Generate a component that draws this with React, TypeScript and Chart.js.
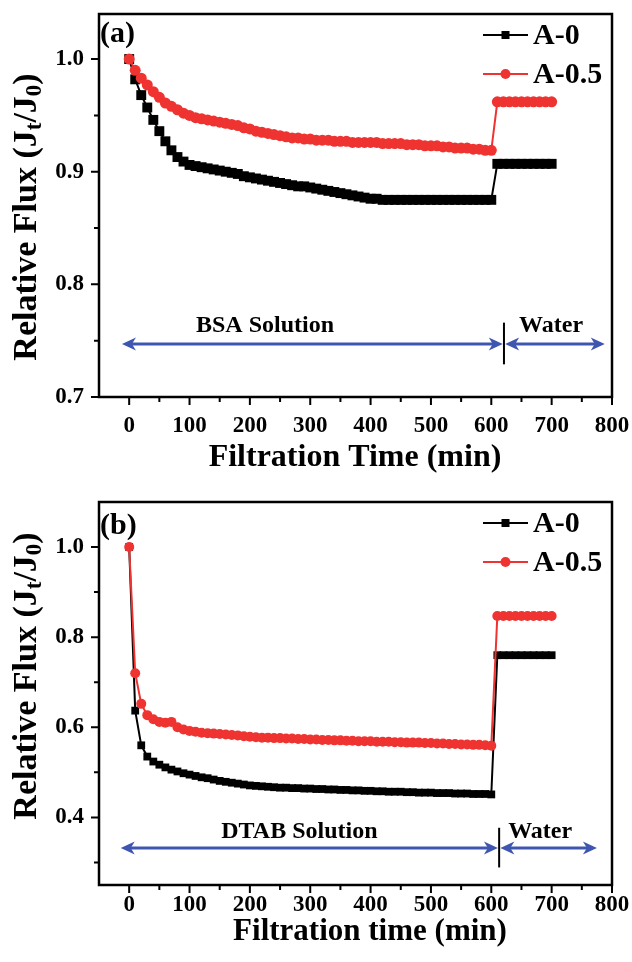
import React, { useEffect, useRef } from "react";
import { Chart, registerables } from "chart.js";

Chart.register(...registerables);

// ---------- data ----------
const TIME_MIN = [
  0, 10, 20, 30, 40, 50, 60, 70, 80, 90,
  100, 110, 120, 130, 140, 150, 160, 170, 180, 190,
  200, 210, 220, 230, 240, 250, 260, 270, 280, 290,
  300, 310, 320, 330, 340, 350, 360, 370, 380, 390,
  400, 410, 420, 430, 440, 450, 460, 470, 480, 490,
  500, 510, 520, 530, 540, 550, 560, 570, 580, 590,
  600, 610, 620, 630, 640, 650, 660, 670, 680, 690, 700,
];

// panel (a): BSA solution then water
const A0_BSA = [
  1.000, 0.982, 0.968, 0.957, 0.946, 0.936, 0.927, 0.919, 0.913, 0.909,
  0.906, 0.905, 0.904, 0.903, 0.902, 0.901, 0.900, 0.899, 0.898, 0.896,
  0.895, 0.894, 0.893, 0.892, 0.891, 0.890, 0.889, 0.888, 0.887, 0.887,
  0.886, 0.885, 0.884, 0.883, 0.882, 0.881, 0.880, 0.879, 0.878, 0.877,
  0.876, 0.876, 0.875, 0.875, 0.875, 0.875, 0.875, 0.875, 0.875, 0.875,
  0.875, 0.875, 0.875, 0.875, 0.875, 0.875, 0.875, 0.875, 0.875, 0.875,
  0.875, 0.907, 0.907, 0.907, 0.907, 0.907, 0.907, 0.907, 0.907, 0.907, 0.907,
];
const A05_BSA = [
  1.000, 0.990, 0.983, 0.977, 0.971, 0.966, 0.961, 0.958, 0.955, 0.952,
  0.950, 0.948, 0.947, 0.946, 0.945, 0.944, 0.943, 0.942, 0.941, 0.939,
  0.938, 0.936, 0.935, 0.934, 0.933, 0.932, 0.931, 0.930, 0.930, 0.929,
  0.929, 0.928, 0.928, 0.928, 0.927, 0.927, 0.927, 0.926, 0.926, 0.926,
  0.926, 0.926, 0.925, 0.925, 0.925, 0.925, 0.924, 0.924, 0.924, 0.923,
  0.923, 0.923, 0.922, 0.922, 0.921, 0.921, 0.921, 0.920, 0.920, 0.919,
  0.919, 0.962, 0.962, 0.962, 0.962, 0.962, 0.962, 0.962, 0.962, 0.962, 0.962,
];

// panel (b): DTAB solution then water
const A0_DTAB = [
  1.000, 0.637, 0.560, 0.535, 0.524, 0.517, 0.511, 0.506, 0.502, 0.498,
  0.495, 0.492, 0.489, 0.487, 0.484, 0.481, 0.479, 0.477, 0.475, 0.473,
  0.471, 0.470, 0.469, 0.468, 0.467, 0.466, 0.466, 0.465, 0.465, 0.464,
  0.464, 0.463, 0.463, 0.462, 0.462, 0.461, 0.461, 0.460, 0.460, 0.459,
  0.459, 0.458, 0.458, 0.457, 0.457, 0.457, 0.456, 0.456, 0.455, 0.455,
  0.455, 0.454, 0.454, 0.454, 0.453, 0.453, 0.453, 0.452, 0.452, 0.452,
  0.451, 0.760, 0.760, 0.760, 0.760, 0.760, 0.760, 0.760, 0.760, 0.760, 0.760,
];
const A05_DTAB = [
  1.000, 0.720, 0.652, 0.627, 0.618, 0.612, 0.610, 0.612, 0.600, 0.595,
  0.592, 0.590, 0.588, 0.587, 0.586, 0.585, 0.584, 0.583, 0.582, 0.580,
  0.579, 0.578, 0.577, 0.577, 0.576, 0.576, 0.575, 0.575, 0.574, 0.574,
  0.573, 0.573, 0.572, 0.572, 0.571, 0.571, 0.570, 0.570, 0.569, 0.569,
  0.569, 0.568, 0.568, 0.568, 0.567, 0.567, 0.566, 0.566, 0.566, 0.565,
  0.565, 0.564, 0.564, 0.563, 0.563, 0.562, 0.562, 0.561, 0.561, 0.560,
  0.559, 0.847, 0.847, 0.847, 0.847, 0.847, 0.847, 0.847, 0.847, 0.847, 0.847,
];

const SERIES_LABELS = ["A-0", "A-0.5"];
const PANEL_TAGS = ["(a)", "(b)"];

const X_TICKS = [0, 100, 200, 300, 400, 500, 600, 700, 800];
const X_MINOR = [50, 150, 250, 350, 450, 550, 650, 750];
const Y_TICKS_A = [0.7, 0.8, 0.9, 1.0];
const Y_MINOR_A = [0.75, 0.85, 0.95];
const Y_TICKS_B = [0.4, 0.6, 0.8, 1.0];
const Y_MINOR_B = [0.3, 0.5, 0.7, 0.9];

const X_TITLE_A = "Filtration Time (min)";
const X_TITLE_B = "Filtration time (min)";
const Y_TITLE_PARTS: [string, boolean][] = [
  ["Relative Flux (J", false],
  ["t", true],
  ["/J", false],
  ["0", true],
  [")", false],
];

const PHASES_A = ["BSA Solution", "Water"];
const PHASES_B = ["DTAB Solution", "Water"];

// ---------- styles ----------
const FONT = '"Liberation Serif", "Times New Roman", serif';
const RED = "#EE3330";
const BLUE = "#3F56B0";

type Spec = {
  tag: string;
  tagOffset: number;
  a0: number[];
  a05: number[];
  a0Radius: number;
  a05Radius: number;
  yMin: number;
  yMax: number;
  yTicks: number[];
  yMinor: number[];
  xTitle: string;
  xTitleSize: number;
  xTitleX: number;
  xTitleY: number;
  xTickPad: number;
  padTop: number;
  xHeight: number;
  yTitleCenter: number;
  phases: string[];
  // annotation placement in data units
  arrowY: number;
  arrow1: [number, number];
  arrow2: [number, number];
  divider: number;
  dividerY: [number, number];
  phaseLabelX: [number, number];
  phaseLabelY: number;
};

const PANEL_A: Spec = {
  tag: PANEL_TAGS[0],
  tagOffset: 20,
  a0: A0_BSA,
  a05: A05_BSA,
  a0Radius: 7,
  a05Radius: 5.5,
  yMin: 0.7,
  yMax: 1.04,
  yTicks: Y_TICKS_A,
  yMinor: Y_MINOR_A,
  xTitle: X_TITLE_A,
  xTitleSize: 32,
  xTitleX: 355,
  xTitleY: 458,
  xTickPad: 15,
  padTop: 14,
  xHeight: 84,
  yTitleCenter: 217,
  phases: PHASES_A,
  arrowY: 0.747,
  arrow1: [-12, 619],
  arrow2: [623, 788],
  divider: 621,
  dividerY: [0.729, 0.766],
  phaseLabelX: [225, 699],
  phaseLabelY: 0.763,
};

const PANEL_B: Spec = {
  tag: PANEL_TAGS[1],
  tagOffset: 24,
  a0: A0_DTAB,
  a05: A05_DTAB,
  a0Radius: 5.5,
  a05Radius: 5,
  yMin: 0.25,
  yMax: 1.1,
  yTicks: Y_TICKS_B,
  yMinor: Y_MINOR_B,
  xTitle: X_TITLE_B,
  xTitleSize: 31,
  xTitleX: 370,
  xTitleY: 451,
  xTickPad: 6,
  padTop: 21,
  xHeight: 77,
  yTitleCenter: 195,
  phases: PHASES_B,
  arrowY: 0.332,
  arrow1: [-14, 611],
  arrow2: [615, 775],
  divider: 613,
  dividerY: [0.289, 0.377],
  phaseLabelX: [282, 681],
  phaseLabelY: 0.369,
};

function arrowHead(ctx: CanvasRenderingContext2D, tipX: number, y: number, dir: number) {
  const L = 14, W = 6.5, notch = 4;
  ctx.beginPath();
  ctx.moveTo(tipX, y);
  ctx.lineTo(tipX - dir * L, y - W);
  ctx.lineTo(tipX - dir * (L - notch), y);
  ctx.lineTo(tipX - dir * L, y + W);
  ctx.closePath();
  ctx.fill();
}

function doubleArrow(ctx: CanvasRenderingContext2D, x1: number, x2: number, y: number) {
  ctx.beginPath();
  ctx.moveTo(x1 + 8, y);
  ctx.lineTo(x2 - 8, y);
  ctx.stroke();
  arrowHead(ctx, x1, y, -1);
  arrowHead(ctx, x2, y, 1);
}

function makeDecor(spec: Spec) {
  return {
    id: "decor",
    afterDraw(chart: any) {
      const { ctx, chartArea: ca, scales } = chart;
      const x = scales.x;
      const y = scales.y;
      ctx.save();

      // frame
      ctx.strokeStyle = "#000";
      ctx.lineWidth = 2.5;
      ctx.strokeRect(ca.left, ca.top, ca.right - ca.left, ca.bottom - ca.top);

      // tick marks
      ctx.lineWidth = 2;
      ctx.beginPath();
      X_TICKS.forEach((v) => {
        const px = x.getPixelForValue(v);
        ctx.moveTo(px, ca.bottom);
        ctx.lineTo(px, ca.bottom + 8);
      });
      X_MINOR.forEach((v) => {
        const px = x.getPixelForValue(v);
        ctx.moveTo(px, ca.bottom);
        ctx.lineTo(px, ca.bottom + 5);
      });
      spec.yTicks.forEach((v) => {
        const py = y.getPixelForValue(v);
        ctx.moveTo(ca.left, py);
        ctx.lineTo(ca.left - 8, py);
      });
      spec.yMinor.forEach((v) => {
        const py = y.getPixelForValue(v);
        ctx.moveTo(ca.left, py);
        ctx.lineTo(ca.left - 5, py);
      });
      ctx.stroke();

      // phase arrows
      const ay = y.getPixelForValue(spec.arrowY);
      ctx.strokeStyle = BLUE;
      ctx.fillStyle = BLUE;
      ctx.lineWidth = 3;
      doubleArrow(ctx, x.getPixelForValue(spec.arrow1[0]), x.getPixelForValue(spec.arrow1[1]), ay);
      doubleArrow(ctx, x.getPixelForValue(spec.arrow2[0]), x.getPixelForValue(spec.arrow2[1]), ay);
      ctx.strokeStyle = "#000";
      ctx.lineWidth = 2;
      ctx.beginPath();
      const dx = x.getPixelForValue(spec.divider);
      ctx.moveTo(dx, y.getPixelForValue(spec.dividerY[0]));
      ctx.lineTo(dx, y.getPixelForValue(spec.dividerY[1]));
      ctx.stroke();

      // phase labels
      ctx.fillStyle = "#000";
      ctx.font = `bold 24px ${FONT}`;
      ctx.textAlign = "center";
      ctx.textBaseline = "middle";
      const ly = y.getPixelForValue(spec.phaseLabelY);
      ctx.fillText(spec.phases[0], x.getPixelForValue(spec.phaseLabelX[0]), ly);
      ctx.fillText(spec.phases[1], x.getPixelForValue(spec.phaseLabelX[1]), ly);

      // x-axis title
      ctx.font = `bold ${spec.xTitleSize}px ${FONT}`;
      ctx.fillText(spec.xTitle, spec.xTitleX, spec.xTitleY);

      // panel tag
      ctx.textAlign = "left";
      ctx.font = `bold 30px ${FONT}`;
      ctx.fillText(spec.tag, ca.left + 1, ca.top + spec.tagOffset);

      // legend
      const rows = [ca.top + 21, ca.top + 60];
      const lx1 = ca.right - 129;
      const lx2 = ca.right - 84;
      const mx = (lx1 + lx2) / 2;
      ctx.lineWidth = 2;
      ctx.strokeStyle = "#000";
      ctx.beginPath();
      ctx.moveTo(lx1, rows[0]);
      ctx.lineTo(lx2, rows[0]);
      ctx.stroke();
      ctx.fillStyle = "#000";
      ctx.fillRect(mx - 4, rows[0] - 4, 8, 8);
      ctx.strokeStyle = RED;
      ctx.beginPath();
      ctx.moveTo(lx1, rows[1]);
      ctx.lineTo(lx2, rows[1]);
      ctx.stroke();
      ctx.fillStyle = RED;
      ctx.beginPath();
      ctx.arc(mx, rows[1], 5, 0, Math.PI * 2);
      ctx.fill();
      ctx.fillStyle = "#000";
      ctx.font = `bold 30px ${FONT}`;
      ctx.textBaseline = "middle";
      ctx.fillText(SERIES_LABELS[0], ca.right - 79, rows[0] + 1);
      ctx.fillText(SERIES_LABELS[1], ca.right - 79, rows[1] + 1);

      // y-axis title with subscripts
      const size = 34;
      const big = `bold ${size}px ${FONT}`;
      const small = `bold ${Math.round(size * 0.68)}px ${FONT}`;
      ctx.save();
      ctx.translate(27, spec.yTitleCenter);
      ctx.rotate(-Math.PI / 2);
      let total = 0;
      Y_TITLE_PARTS.forEach(([t, sub]) => {
        ctx.font = sub ? small : big;
        total += ctx.measureText(t).width;
      });
      let cx = -total / 2;
      ctx.textAlign = "left";
      ctx.textBaseline = "middle";
      Y_TITLE_PARTS.forEach(([t, sub]) => {
        ctx.font = sub ? small : big;
        ctx.fillText(t, cx, sub ? size * 0.25 : 0);
        cx += ctx.measureText(t).width;
      });
      ctx.restore();

      ctx.restore();
    },
  };
}

function Panel({ spec }: { spec: Spec }) {
  const ref = useRef<HTMLCanvasElement>(null);
  useEffect(() => {
    const canvas = ref.current;
    if (!canvas) return;
    const chart = new Chart(canvas, {
      type: "line",
      data: {
        datasets: [
          {
            label: SERIES_LABELS[0],
            data: TIME_MIN.map((t, i) => ({ x: t, y: spec.a0[i] })),
            borderColor: "#000",
            backgroundColor: "#000",
            borderWidth: 2,
            pointStyle: "rect",
            pointRadius: spec.a0Radius,
            pointBorderWidth: 0,
            pointBackgroundColor: "#000",
            tension: 0,
            order: 1,
          },
          {
            label: SERIES_LABELS[1],
            data: TIME_MIN.map((t, i) => ({ x: t, y: spec.a05[i] })),
            borderColor: RED,
            backgroundColor: RED,
            borderWidth: 2,
            pointStyle: "circle",
            pointRadius: spec.a05Radius,
            pointBorderWidth: 0,
            pointBackgroundColor: RED,
            tension: 0,
            order: 0,
          },
        ],
      },
      options: {
        responsive: false,
        animation: false,
        events: [],
        layout: { padding: { left: 0, right: 20, top: spec.padTop, bottom: 0 } },
        plugins: { legend: { display: false }, tooltip: { enabled: false } },
        scales: {
          x: {
            type: "linear",
            min: -50,
            max: 800,
            afterBuildTicks: (s: any) => {
              s.ticks = X_TICKS.map((v) => ({ value: v }));
            },
            afterFit: (s: any) => {
              s.height = spec.xHeight;
              s.paddingLeft = 0;
              s.paddingRight = 0;
              s.paddingTop = 0;
              s.paddingBottom = 0;
            },
            grid: { display: false, drawTicks: false },
            border: { display: false },
            ticks: {
              autoSkip: false,
              maxRotation: 0,
              padding: spec.xTickPad,
              color: "#000",
              font: { family: FONT, size: 23, weight: "bold" },
              callback: (v: any) => String(v),
            },
          },
          y: {
            type: "linear",
            min: spec.yMin,
            max: spec.yMax,
            afterBuildTicks: (s: any) => {
              s.ticks = spec.yTicks.map((v) => ({ value: v }));
            },
            afterFit: (s: any) => {
              s.width = 99;
              s.paddingLeft = 0;
              s.paddingRight = 0;
              s.paddingTop = 0;
              s.paddingBottom = 0;
            },
            grid: { display: false, drawTicks: false },
            border: { display: false },
            ticks: {
              autoSkip: false,
              padding: 15,
              color: "#000",
              font: { family: FONT, size: 23, weight: "bold" },
              callback: (v: any) => Number(v).toFixed(1),
            },
          },
        },
      },
      plugins: [makeDecor(spec)],
    } as any);
    return () => chart.destroy();
  }, [spec]);
  return (
    <canvas
      ref={ref}
      width={632}
      height={481}
      style={{ display: "block", width: 632, height: 481 }}
    />
  );
}

export default function App() {
  return (
    <div
      style={{
        position: "absolute",
        left: 0,
        top: 0,
        width: 632,
        height: 962,
        background: "#fff",
      }}
    >
      <Panel spec={PANEL_A} />
      <Panel spec={PANEL_B} />
    </div>
  );
}
